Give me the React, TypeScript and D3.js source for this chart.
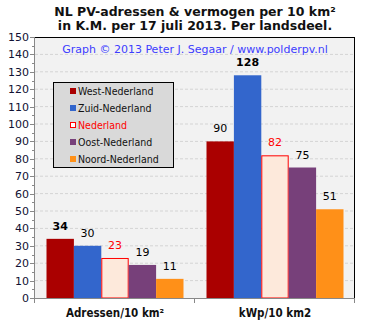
import React from "react";
import * as d3 from "d3";

const categories = ["Adressen/10 km²", "kWp/10 km2"];
const seriesNames = ["West-Nederland", "Zuid-Nederland", "Nederland", "Oost-Nederland", "Noord-Nederland"];
const adressen = [34, 30, 23, 19, 11];
const kwp = [90, 128, 82, 75, 51];
const yTicks = [0, 10, 20, 30, 40, 50, 60, 70, 80, 90, 100, 110, 120, 130, 140, 150];
const fills = ["#AA0000", "#3366CC", "#FDE9DB", "#77407A", "#FF9018"];
const strokes = ["none", "none", "#FF0000", "none", "none"];
const labelColors = ["#000", "#000", "#FF0000", "#000", "#000"];

const W = 371, H = 329;
const L = 35, R = 355, T = 37, B = 298;
const FONT = "'DejaVu Sans', Verdana, sans-serif";
const CFONT = "'DejaVu Sans Condensed', 'DejaVu Sans', sans-serif";

export default function App() {
  const values = [adressen, kwp];
  const y = d3.scaleLinear().domain([0, 150]).range([B, T]);
  const x0 = d3.scaleBand<string>().domain(categories).range([L, R]).padding(0);
  const x1 = d3.scaleBand<string>().domain(seriesNames).range([11.5, x0.bandwidth() - 11.5]).padding(0);
  const minor = d3.range(5, 150, 10);

  return (
    <svg width={W} height={H} style={{ position: "absolute", left: 0, top: 0, background: "#fff" }} fontFamily={FONT}>
      <rect x={0} y={0} width={W} height={H} fill="#fff" />
      <text x={195} y={16} textAnchor="middle" fontSize={12.5} fontWeight="bold" fill="#111">NL PV-adressen &amp; vermogen per 10 km²</text>
      <text x={195} y={29.5} textAnchor="middle" fontSize={12.5} fontWeight="bold" fill="#111">in K.M. per 17 juli 2013. Per landsdeel.</text>
      <rect x={L} y={T} width={R - L} height={B - T} fill="#F2F2F2" />
      {yTicks.filter(t => t > 0 && t < 150).map(t => (
        <line key={"g" + t} x1={L} x2={R} y1={y(t)} y2={y(t)} stroke="#D4D4D4" strokeDasharray="3,2" />
      ))}
      <text x={195} y={52.5} textAnchor="middle" fontSize={11} fill="#3C3CFF">Graph © 2013 Peter J. Segaar / www.polderpv.nl</text>
      {categories.map((c, ci) => (
        <g key={c} transform={`translate(${x0(c)},0)`}>
          {seriesNames.map((s, si) => {
            const v = values[ci][si];
            const bx = x1(s)!;
            const bw = x1.bandwidth();
            const isMax = v === d3.max(values[ci]);
            const hasStroke = strokes[si] !== "none";
            return (
              <g key={s}>
                <rect x={bx + (hasStroke ? 0.5 : 0)} y={y(v) + (hasStroke ? 0.5 : 0)}
                  width={bw - (hasStroke ? 1 : 0)} height={B - y(v) - (hasStroke ? 0.5 : 0)}
                  fill={fills[si]} stroke={strokes[si]} />
                <text x={bx + bw / 2} y={y(v) - 9} textAnchor="middle" fontSize={11}
                  fontWeight={isMax ? "bold" : "normal"} fill={labelColors[si]}>{v}</text>
              </g>
            );
          })}
        </g>
      ))}
      <line x1={L} x2={R} y1={T + 0.5} y2={T + 0.5} stroke="#000" />
      <line x1={R - 0.5} x2={R - 0.5} y1={T} y2={B} stroke="#000" />
      <line x1={L - 0.5} x2={L - 0.5} y1={T} y2={B + 4} stroke="#888" />
      <line x1={L - 1} x2={R} y1={B + 0.5} y2={B + 0.5} stroke="#888" />
      {yTicks.map(t => (
        <g key={"t" + t}>
          <line x1={L - 5} x2={L} y1={Math.round(y(t)) + 0.5} y2={Math.round(y(t)) + 0.5} stroke="#888" />
          <text x={L - 6} y={y(t) + 4} textAnchor="end" fontSize={11} fill="#111133">{t}</text>
        </g>
      ))}
      {minor.map(t => (
        <line key={"m" + t} x1={L - 3} x2={L} y1={Math.round(y(t)) + 0.5} y2={Math.round(y(t)) + 0.5} stroke="#888" />
      ))}
      {[L, L + x0.bandwidth(), R].map((xx, i) => (
        <line key={"b" + i} x1={Math.round(xx) - 0.5} x2={Math.round(xx) - 0.5} y1={B} y2={B + 5} stroke="#888" />
      ))}
      {categories.map(c => (
        <text key={"c" + c} x={x0(c)! + x0.bandwidth() / 2} y={317} textAnchor="middle" fontSize={11.5} fontWeight="bold" fill="#111" fontFamily={CFONT}>{c}</text>
      ))}
      <rect x={53.5} y={82.5} width={120} height={85} fill="#D9D9D9" stroke="#000" />
      {seriesNames.map((s, i) => (
        <g key={"l" + s} transform={`translate(0,${91 + i * 17})`}>
          {strokes[i] !== "none"
            ? <rect x={70.5} y={-2.5} width={5} height={5} fill="#fff" stroke={strokes[i]} />
            : <rect x={70} y={-3} width={6} height={6} fill={fills[i]} />}
          <text x={78} y={4} fontSize={10.5} fill={i === 2 ? "#FF0000" : "#111"} fontFamily={CFONT}>{s}</text>
        </g>
      ))}
    </svg>
  );
}
